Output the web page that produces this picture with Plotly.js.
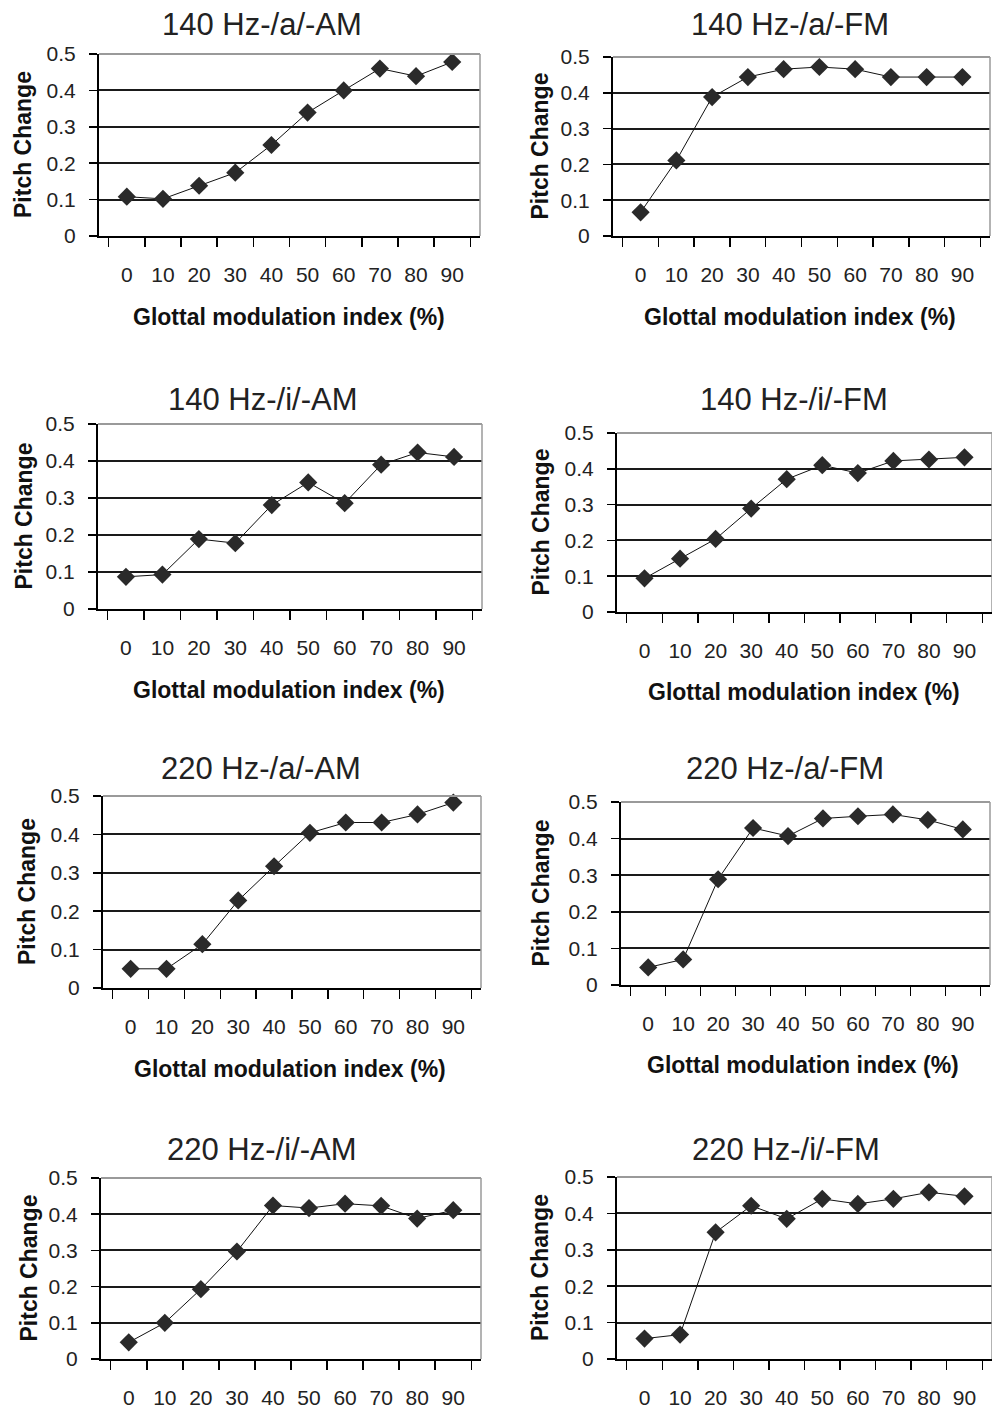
<!DOCTYPE html>
<html>
<head>
<meta charset="utf-8">
<script src="https://cdn.plot.ly/plotly-3.0.1.min.js"></script>
<style>html,body{margin:0;padding:0;background:#fff;}#chart{width:992px;height:1410px;}</style>
</head>
<body>
<div id="chart"></div>
<script>
// Categories (glottal modulation index, %)
const categories = ["0","10","20","30","40","50","60","70","80","90"];

// Panel titles
const panelTitles = [
  "140 Hz-/a/-AM", "140 Hz-/a/-FM",
  "140 Hz-/i/-AM", "140 Hz-/i/-FM",
  "220 Hz-/a/-AM", "220 Hz-/a/-FM",
  "220 Hz-/i/-AM", "220 Hz-/i/-FM"
];

// Series values (pitch change)
const hz140_a_AM = [0.108, 0.102, 0.138, 0.174, 0.250, 0.339, 0.400, 0.460, 0.439, 0.478];
const hz140_a_FM = [0.066, 0.211, 0.388, 0.444, 0.466, 0.472, 0.466, 0.444, 0.444, 0.444];
const hz140_i_AM = [0.087, 0.093, 0.189, 0.178, 0.281, 0.342, 0.286, 0.390, 0.423, 0.411];
const hz140_i_FM = [0.094, 0.149, 0.204, 0.289, 0.371, 0.410, 0.388, 0.422, 0.426, 0.432];
const hz220_a_AM = [0.050, 0.050, 0.114, 0.228, 0.317, 0.404, 0.431, 0.431, 0.452, 0.483];
const hz220_a_FM = [0.048, 0.070, 0.289, 0.429, 0.407, 0.455, 0.461, 0.466, 0.451, 0.425];
const hz220_i_AM = [0.046, 0.100, 0.193, 0.297, 0.424, 0.417, 0.429, 0.423, 0.388, 0.411];
const hz220_i_FM = [0.056, 0.067, 0.348, 0.421, 0.385, 0.440, 0.426, 0.440, 0.458, 0.447];

const seriesList = [hz140_a_AM, hz140_a_FM, hz140_i_AM, hz140_i_FM,
                    hz220_a_AM, hz220_a_FM, hz220_i_AM, hz220_i_FM];

const yTitle = "Pitch Change";
const xTitle = "Glottal modulation index (%)";

// Layout geometry (pixels)
const W = 992, H = 1410;
const boxes = [ // [left, right, top, bottom]
  [99, 480, 54, 236], [613, 990, 57, 236],
  [98, 482, 424, 609], [617, 992, 433, 612],
  [103, 481, 796, 988], [621, 990, 802, 985],
  [101, 481, 1178, 1359], [617, 992, 1177, 1359]
];
const titlePos = [[262,25],[790,25],[262,400],[794,399],[261,769],[785,769],[261,1149],[786,1149]];
const yTitleX = [23,539,24,540,27,540,28,540];
const xTitlePos = [[289,317],[800,317],[289,690],[804,692],[290,1069],[803,1065],null,null];

const FONT = "Liberation Sans, Arial, sans-serif";
const px = v => v / W;
const py = v => 1 - v / H;

const data = [];
const layout = {
  width: W, height: H,
  margin: {l:0, r:0, t:0, b:0},
  paper_bgcolor: "#fff", plot_bgcolor: "#fff",
  showlegend: false,
  font: {family: FONT, color: "#222"},
  annotations: [], shapes: []
};

seriesList.forEach((vals, i) => {
  const n = i + 1;
  const xa = "x" + (n === 1 ? "" : n), ya = "y" + (n === 1 ? "" : n);
  const xk = "xaxis" + (n === 1 ? "" : n), yk = "yaxis" + (n === 1 ? "" : n);
  const b = boxes[i];
  data.push({
    type: "scatter", mode: "lines+markers",
    x: categories, y: vals, xaxis: xa, yaxis: ya,
    line: {color: "#111", width: 1},
    marker: {symbol: "diamond", size: 14, color: "#2a2a2a"},
    cliponaxis: false, hoverinfo: "skip"
  });
  layout[xk] = {
    domain: [px(b[0]), px(b[1])], anchor: ya,
    type: "category", tickson: "boundaries",
    showline: true, linecolor: "#000", linewidth: 2,
    ticks: "outside", ticklen: 9, tickwidth: 1.5, tickcolor: "#000",
    ticklabelstandoff: 19,
    tickfont: {family: FONT, size: 21, color: "#222"},
    showgrid: false, zeroline: false, fixedrange: true
  };
  layout[yk] = {
    domain: [py(b[3]), py(b[2])], anchor: xa,
    range: [0, 0.5], dtick: 0.1, tick0: 0,
    showline: true, linecolor: "#000", linewidth: 2,
    ticks: "outside", ticklen: 8, tickwidth: 1.5, tickcolor: "#000",
    ticklabelstandoff: 9,
    tickfont: {family: FONT, size: 21, color: "#222"},
    showgrid: true, gridcolor: "#1a1a1a", gridwidth: 2,
    zeroline: false, fixedrange: true
  };
  // gray top and right border of plot area
  layout.shapes.push({type: "line", xref: xa + " domain", yref: ya + " domain",
    x0: 0, x1: 1, y0: 1, y1: 1, line: {color: "#9a9a9a", width: 2}, layer: "above"});
  layout.shapes.push({type: "line", xref: xa + " domain", yref: ya + " domain",
    x0: 1, x1: 1, y0: 0, y1: 1, line: {color: "#9a9a9a", width: 1.5}, layer: "above"});
  // panel title
  layout.annotations.push({
    text: panelTitles[i], xref: "paper", yref: "paper",
    x: px(titlePos[i][0]), y: py(titlePos[i][1]), xanchor: "center", yanchor: "middle",
    showarrow: false, font: {family: FONT, size: 31, color: "#222"}
  });
  // y-axis title
  layout.annotations.push({
    text: yTitle, xref: "paper", yref: "paper", textangle: -90,
    x: px(yTitleX[i]), y: py((b[2] + b[3]) / 2), xanchor: "center", yanchor: "middle",
    showarrow: false, font: {family: FONT, size: 23, color: "#111", weight: "bold"}
  });
  // x-axis title
  if (xTitlePos[i]) {
    layout.annotations.push({
      text: xTitle, xref: "paper", yref: "paper",
      x: px(xTitlePos[i][0]), y: py(xTitlePos[i][1]), xanchor: "center", yanchor: "middle",
      showarrow: false, font: {family: FONT, size: 23, color: "#111", weight: "bold"}
    });
  }
});

Plotly.newPlot("chart", data, layout, {staticPlot: true, displayModeBar: false});
</script>
</body>
</html>
